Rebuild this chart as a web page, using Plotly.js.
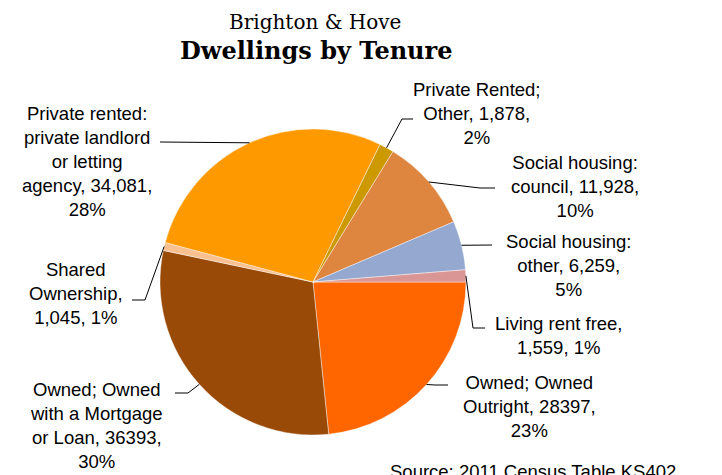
<!DOCTYPE html>
<html><head><meta charset="utf-8">
<script src="https://cdn.plot.ly/plotly-3.0.1.min.js"></script>
<style>html,body{margin:0;padding:0;background:#fff}#chart{width:722px;height:475px}</style>
</head><body><div id="chart"></div>
<script>
// ---- data ----
const categories = ["Owned; Owned Outright", "Owned; Owned with a Mortgage or Loan", "Shared Ownership",
  "Private rented: private landlord or letting agency", "Private Rented; Other",
  "Social housing: council", "Social housing: other", "Living rent free"];
const dwellings = [28397, 36393, 1045, 34081, 1878, 11928, 6259, 1559];
// label text templates ({v} = value, {p} = percent)
const labelTemplates = [
  "Owned; Owned<br>Outright, {v},<br>{p}",
  "Owned; Owned<br>with a Mortgage<br>or Loan, {v},<br>{p}",
  "Shared<br>Ownership,<br>{v}, {p}",
  "Private rented:<br>private landlord<br>or letting<br>agency, {v},<br>{p}",
  "Private Rented;<br>Other, {v},<br>{p}",
  "Social housing:<br>council, {v},<br>{p}",
  "Social housing:<br>other, {v},<br>{p}",
  "Living rent free,<br>{v}, {p}"];
const useThousandsSep = [false, false, true, true, true, true, true, true];
const titleLine1 = "Brighton & Hove";
const titleLine2 = "Dwellings by Tenure";
const sourceText = "Source: 2011 Census Table KS402";

// ---- styles / layout ----
const colors = ["#FF6600", "#9A4A07", "#FAC090", "#FF9900", "#CC9900", "#DE8640", "#95A8D0", "#D99694"];
const W = 722, H = 475;
const CX = 313, CY = 282, R = 153;
// label block centres (px) and leader-line bend points (px)
const labelPos = [[529, 406], [96, 425], [76, 293], [87, 161], [477, 113], [575, 186], [568, 265], [559, 335]];
const leaderPts = [
  [[435, 385], [448, 385]],
  [[188, 393], [175, 393]],
  [[145, 300], [132, 300]],
  [[160, 142]],
  [[402, 119], [413, 119]],
  [[480, 188], [495, 188]],
  [[492, 245]],
  [[473, 328], [485, 328]]
];

const total = dwellings.reduce((a, b) => a + b, 0);
const fmt = (v, sep) => sep ? v.toLocaleString("en-GB") : String(v);

const px = x => x / W, py = y => 1 - y / H;
const annotations = [];
const shapes = [];
let cum = 0;
dwellings.forEach((v, i) => {
  const mid = (cum + v / 2) / total * 2 * Math.PI; // clockwise from 3 o'clock
  cum += v;
  const ex = CX + R * Math.cos(mid), ey = CY + R * Math.sin(mid);
  const pts = [[ex, ey]].concat(leaderPts[i]);
  let path = "M " + px(pts[0][0]) + "," + py(pts[0][1]);
  for (let k = 1; k < pts.length; k++) path += " L " + px(pts[k][0]) + "," + py(pts[k][1]);
  shapes.push({type: "path", xref: "paper", yref: "paper", path: path, line: {color: "#000", width: 1}});
  const pct = Math.round(v / total * 100) + "%";
  annotations.push({
    xref: "paper", yref: "paper", x: px(labelPos[i][0]), y: py(labelPos[i][1]),
    xanchor: "center", yanchor: "middle", showarrow: false, align: "center",
    text: labelTemplates[i].replace("{v}", fmt(v, useThousandsSep[i])).replace("{p}", pct),
    font: {family: "Liberation Sans, Arial, sans-serif", size: 18.5, color: "#000"}
  });
});
annotations.push({xref: "paper", yref: "paper", x: px(315), y: py(22), xanchor: "center", yanchor: "middle",
  showarrow: false, text: titleLine1, font: {family: "DejaVu Serif, serif", size: 20, color: "#000"}});
annotations.push({xref: "paper", yref: "paper", x: px(316), y: py(50), xanchor: "center", yanchor: "middle",
  showarrow: false, text: "<b>" + titleLine2 + "</b>", font: {family: "DejaVu Serif, serif", size: 24, color: "#000"}});
annotations.push({xref: "paper", yref: "paper", x: px(388), y: py(471), xanchor: "left", yanchor: "middle",
  showarrow: false, text: sourceText, font: {family: "Liberation Sans, Arial, sans-serif", size: 18.5, color: "#000"}});

const trace = {
  type: "pie", labels: categories, values: dwellings, sort: false, direction: "clockwise", rotation: 90,
  marker: {colors: colors, line: {color: "rgba(255,255,255,0.6)", width: 0.7}},
  textinfo: "none", hoverinfo: "none", showlegend: false,
  domain: {x: [px(CX - R), px(CX + R)], y: [py(CY + R), py(CY - R)]}
};
const layout = {width: W, height: H, margin: {l: 0, r: 0, t: 0, b: 0}, paper_bgcolor: "#fff",
  showlegend: false, annotations: annotations, shapes: shapes};
Plotly.newPlot("chart", [trace], layout, {displayModeBar: false, staticPlot: true});
</script></body></html>
